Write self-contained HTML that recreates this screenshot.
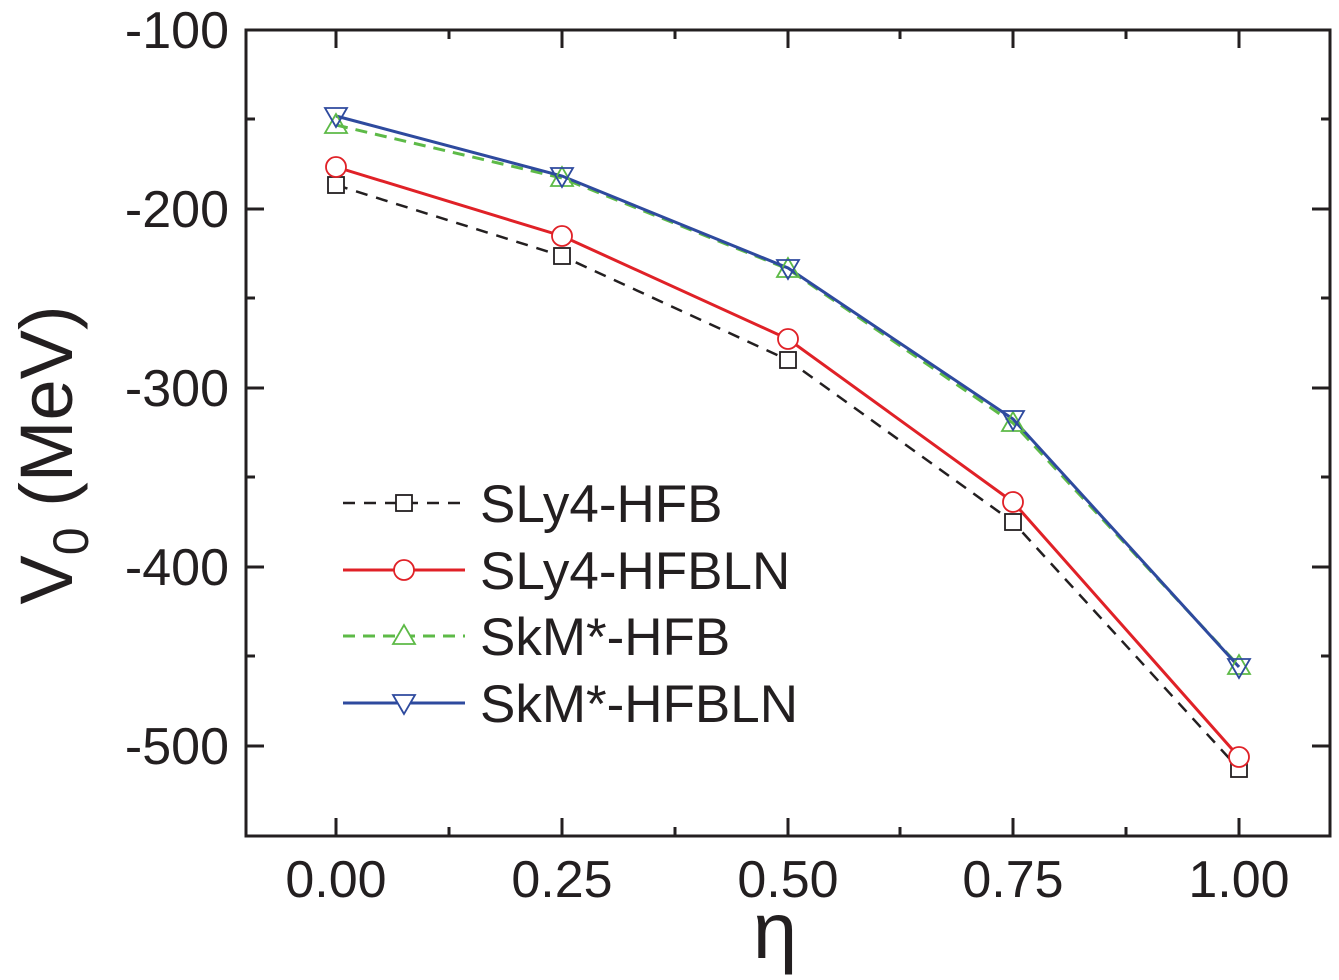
<!DOCTYPE html>
<html><head><style>body{margin:0;background:#fff}svg{display:block}</style></head><body>
<svg width="1339" height="980" xmlns="http://www.w3.org/2000/svg" font-family="Liberation Sans, Arial, sans-serif">
<rect width="1339" height="980" fill="#fff"/>
<g stroke="#231f20" stroke-width="3">
<rect x="246" y="30" width="1084" height="806" fill="none"/>
<path d="M336,836v-18M562,836v-18M788,836v-18M1013,836v-18M1239,836v-18M449,836v-9M675,836v-9M900,836v-9M1126,836v-9
M336,30v18M562,30v18M788,30v18M1013,30v18M1239,30v18M449,30v9M675,30v9M900,30v9M1126,30v9
M246,30h18M246,209h18M246,388h18M246,567h18M246,746h18M246,119h9M246,298h9M246,477h9M246,656h9
M1330,30h-18M1330,209h-18M1330,388h-18M1330,567h-18M1330,746h-18M1330,119h-9M1330,298h-9M1330,477h-9M1330,656h-9"/>
</g>
<g font-size="52" fill="#231f20" text-anchor="end">
<text x="229" y="48">-100</text><text x="229" y="227">-200</text><text x="229" y="406">-300</text><text x="229" y="585">-400</text><text x="229" y="764">-500</text>
</g>
<g font-size="52" fill="#231f20" text-anchor="middle">
<text x="336" y="897">0.00</text><text x="562" y="897">0.25</text><text x="788" y="897">0.50</text><text x="1013" y="897">0.75</text><text x="1239" y="897">1.00</text>
</g>
<text x="775" y="958" font-size="80" text-anchor="middle" fill="#231f20">η</text>
<text transform="translate(72,455) rotate(-90)" font-size="74" text-anchor="middle" fill="#231f20">V<tspan font-size="50" dy="16">0</tspan><tspan dy="-16"> (MeV)</tspan></text>
<polyline points="336,185 562,256 788,360 1013,522 1239,769" fill="none" stroke="#231f20" stroke-width="2.5" stroke-dasharray="12,9"/>
<polyline points="336,167 562,236 788,339 1013,502 1239,757" fill="none" stroke="#e02127" stroke-width="3"/>
<polyline points="336,125 562,178 788,269 1013,423 1239,666" fill="none" stroke="#5dba47" stroke-width="3" stroke-dasharray="12,8"/>
<polyline points="336,116 562,176 788,268 1013,419 1239,667" fill="none" stroke="#2e4a9e" stroke-width="3"/>
<g fill="#fff" stroke="#231f20" stroke-width="1.8">
<rect x="328" y="177" width="16" height="16"/><rect x="554" y="248" width="16" height="16"/><rect x="780" y="352" width="16" height="16"/><rect x="1005" y="514" width="16" height="16"/><rect x="1231" y="761" width="16" height="16"/>
</g>
<g fill="#fff" stroke="#e02127" stroke-width="1.8">
<circle cx="336" cy="167" r="10"/><circle cx="562" cy="236" r="10"/><circle cx="788" cy="339" r="10"/><circle cx="1013" cy="502" r="10"/><circle cx="1239" cy="757" r="10"/>
</g>
<g fill="none" stroke="#5dba47" stroke-width="1.8">
<path d="M336,114l-11,19h22z M562,167l-11,19h22z M788,258l-11,19h22z M1013,412l-11,19h22z M1239,655l-11,19h22z"/>
</g>
<g fill="none" stroke="#2e4a9e" stroke-width="1.8">
<path d="M336,127l-11,-19h22z M562,187l-11,-19h22z M788,279l-11,-19h22z M1013,430l-11,-19h22z M1239,678l-11,-19h22z"/>
</g>
<line x1="343" y1="503" x2="465" y2="503" stroke="#231f20" stroke-width="2.5" stroke-dasharray="12,9"/>
<rect x="396" y="495" width="16" height="16" fill="#fff" stroke="#231f20" stroke-width="1.8"/>
<line x1="343" y1="570" x2="465" y2="570" stroke="#e02127" stroke-width="3"/>
<circle cx="404" cy="570" r="10" fill="#fff" stroke="#e02127" stroke-width="1.8"/>
<line x1="343" y1="636" x2="465" y2="636" stroke="#5dba47" stroke-width="3" stroke-dasharray="12,8"/>
<path d="M404,625l-11,19h22z" fill="#fff" stroke="#5dba47" stroke-width="1.8"/>
<line x1="343" y1="703" x2="465" y2="703" stroke="#2e4a9e" stroke-width="3"/>
<path d="M404,714l-11,-19h22z" fill="#fff" stroke="#2e4a9e" stroke-width="1.8"/>
<g font-size="53" fill="#231f20">
<text x="480" y="522">SLy4-HFB</text><text x="480" y="589">SLy4-HFBLN</text><text x="480" y="655">SkM*-HFB</text><text x="480" y="722">SkM*-HFBLN</text>
</g>
</svg>
</body></html>
